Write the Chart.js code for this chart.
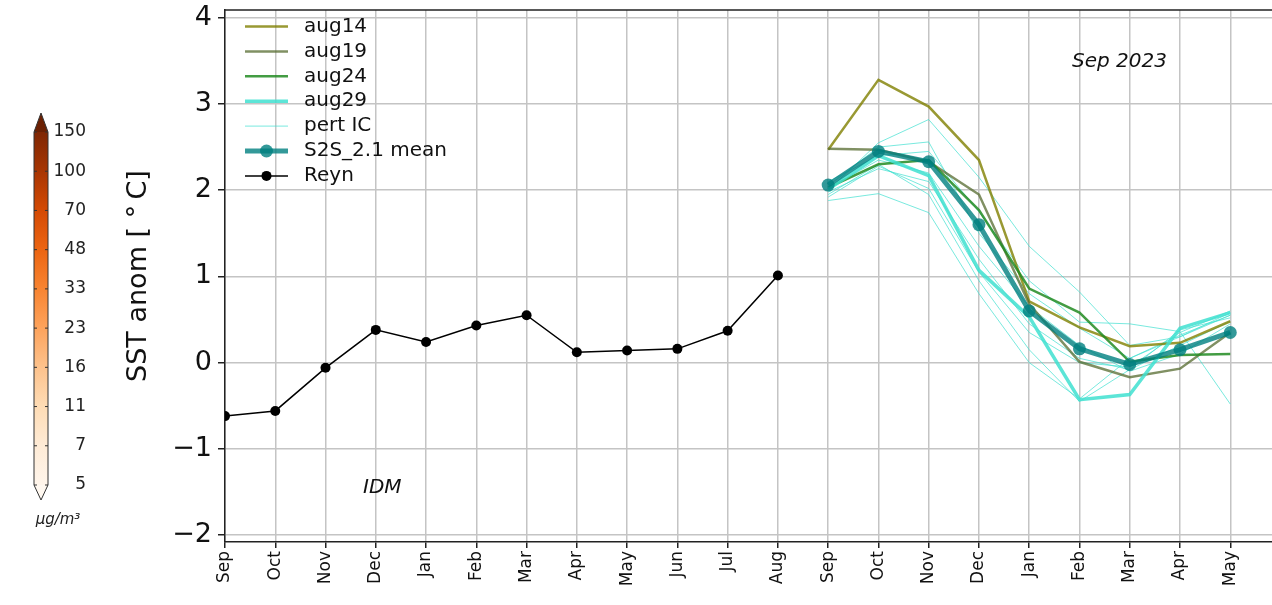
<!DOCTYPE html>
<html>
<head>
<meta charset="utf-8">
<script src="https://cdn.jsdelivr.net/npm/chart.js@4"></script>
<style>
  html, body { margin: 0; padding: 0; background: #fff; overflow: hidden; }
  #wrap { width: 1280px; height: 605px; }
</style>
</head>
<body>
<div id="wrap"><canvas id="sst"></canvas></div>
<script>
// month ticks along the x axis (index 0 = Sep 2022)
const months = ['Sep','Oct','Nov','Dec','Jan','Feb','Mar','Apr','May','Jun','Jul','Aug',
                'Sep','Oct','Nov','Dec','Jan','Feb','Mar','Apr','May'];
const yTicks = [-2, -1, 0, 1, 2, 3, 4];

// observed (Reynolds) anomalies, Sep .. Aug
const reynVals = [-0.62, -0.56, -0.06, 0.38, 0.24, 0.43, 0.55, 0.12, 0.14, 0.16, 0.37, 1.01];

// forecasts start at index 12 (Sep 2023)
const fcStart = 12;
const aug14 = [2.47, 3.28, 2.97, 2.35, 0.71, 0.41, 0.19, 0.23, 0.48];
const aug19 = [2.48, 2.47, 2.33, 1.95, 0.68, 0.01, -0.17, -0.07, 0.35];
const aug24 = [2.03, 2.30, 2.35, 1.77, 0.86, 0.58, 0.01, 0.09, 0.10];
const aug29 = [2.01, 2.40, 2.17, 1.07, 0.53, -0.43, -0.37, 0.40, 0.58];
const s2sMean = [2.06, 2.45, 2.33, 1.60, 0.60, 0.16, -0.02, 0.15, 0.35];
const pertIC = [
  [1.88, 1.96, 1.74, 0.80, 0.00, -0.42, 0.05, 0.32, 0.55],
  [1.95, 2.30, 1.95, 0.95, 0.15, -0.45, -0.08, 0.38, 0.52],
  [2.00, 2.55, 2.82, 2.15, 1.35, 0.82, 0.20, 0.30, 0.55],
  [2.05, 2.50, 2.56, 1.50, 0.80, 0.40, 0.05, 0.30, 0.58],
  [2.10, 2.40, 2.45, 1.75, 0.95, 0.47, 0.45, 0.36, -0.48],
  [1.98, 2.25, 2.10, 1.20, 0.45, 0.05, -0.08, 0.20, 0.48],
  [2.02, 2.35, 2.20, 1.35, 0.65, 0.20, -0.10, 0.10, 0.45],
  [1.92, 2.28, 2.02, 1.05, 0.35, 0.00, -0.05, 0.35, 0.60]
];

// colorbar labels (bottom to top)
const cbarTicks = ['5', '7', '11', '16', '23', '33', '48', '70', '100', '150'];

const FONT = "'DejaVu Sans', sans-serif";

function toPoints(vals, start) {
  return vals.map((v, i) => ({ x: start + i, y: v }));
}

const colors = {
  aug14: 'rgba(128,128,0,0.8)',
  aug19: 'rgba(85,107,47,0.75)',
  aug24: 'rgba(34,139,34,0.85)',
  aug29: 'rgba(64,224,208,0.85)',
  pert: 'rgba(64,224,208,0.7)',
  mean: 'rgba(0,128,128,0.8)',
  reyn: '#000'
};

function lineSet(label, vals, start, color, width, radius) {
  return {
    label: label,
    data: toPoints(vals, start),
    borderColor: color,
    backgroundColor: color,
    borderWidth: width,
    pointRadius: radius || 0,
    pointBorderWidth: 0,
    pointBackgroundColor: color,
    tension: 0,
    fill: false
  };
}

// first dataset ends up on top
const datasets = [
  lineSet('Reyn', reynVals, 0, colors.reyn, 1.5, 5),
  lineSet('S2S_2.1 mean', s2sMean, fcStart, colors.mean, 5, 6.5),
  lineSet('aug29', aug29, fcStart, colors.aug29, 3.5),
  lineSet('aug24', aug24, fcStart, colors.aug24, 2.5),
  lineSet('aug19', aug19, fcStart, colors.aug19, 2.5),
  lineSet('aug14', aug14, fcStart, colors.aug14, 2.5)
];
pertIC.forEach((p, k) => datasets.push(lineSet('pert IC ' + k, p, fcStart, colors.pert, 1)));

// legend entries drawn by hand inside the axes
const legendItems = [
  { text: 'aug14', color: colors.aug14, width: 2.5 },
  { text: 'aug19', color: colors.aug19, width: 2.5 },
  { text: 'aug24', color: colors.aug24, width: 2.5 },
  { text: 'aug29', color: colors.aug29, width: 3.5 },
  { text: 'pert IC', color: colors.pert, width: 1 },
  { text: 'S2S_2.1 mean', color: colors.mean, width: 5, marker: 6.5 },
  { text: 'Reyn', color: colors.reyn, width: 1.5, marker: 5 }
];

const extras = {
  id: 'extras',
  afterDraw(chart) {
    const ctx = chart.ctx;
    const area = chart.chartArea;
    ctx.save();

    // top spine
    ctx.strokeStyle = '#222';
    ctx.lineWidth = 1.5;
    ctx.beginPath();
    ctx.moveTo(area.left, area.top);
    ctx.lineTo(area.right, area.top);
    ctx.stroke();

    // legend
    legendItems.forEach((it, i) => {
      const y = 26.5 + i * 24.9;
      ctx.strokeStyle = it.color;
      ctx.lineWidth = it.width;
      ctx.beginPath();
      ctx.moveTo(245, y);
      ctx.lineTo(288, y);
      ctx.stroke();
      if (it.marker) {
        ctx.fillStyle = it.color;
        ctx.beginPath();
        ctx.arc(266.5, y, it.marker, 0, Math.PI * 2);
        ctx.fill();
      }
      ctx.fillStyle = '#111';
      ctx.font = '20px ' + FONT;
      ctx.textBaseline = 'middle';
      ctx.textAlign = 'left';
      ctx.fillText(it.text, 304, y);
    });

    // annotations
    ctx.font = 'italic 20px ' + FONT;
    ctx.fillStyle = '#111';
    ctx.textAlign = 'left';
    ctx.textBaseline = 'middle';
    ctx.fillText('Sep 2023', 1072, 62);
    ctx.fillText('IDM', 363, 488);

    // colorbar
    const cx = 34, cw = 14, top = 132, bot = 485;
    const grad = ctx.createLinearGradient(0, bot, 0, top);
    const stops = ['#fff5eb', '#feebd6', '#fedcb5', '#fdc28c', '#fda35c', '#f88431', '#ec6512', '#d44a04', '#a83603', '#7f2704'];
    stops.forEach((c, i) => grad.addColorStop(i / (stops.length - 1), c));
    ctx.fillStyle = grad;
    ctx.fillRect(cx, top, cw, bot - top);
    ctx.fillStyle = '#6b2003';
    ctx.beginPath();
    ctx.moveTo(cx, top); ctx.lineTo(cx + cw / 2, 113); ctx.lineTo(cx + cw, top); ctx.closePath();
    ctx.fill();
    ctx.fillStyle = '#fff8f0';
    ctx.beginPath();
    ctx.moveTo(cx, bot); ctx.lineTo(cx + cw / 2, 500); ctx.lineTo(cx + cw, bot); ctx.closePath();
    ctx.fill();
    ctx.strokeStyle = '#333';
    ctx.lineWidth = 1;
    ctx.beginPath();
    ctx.moveTo(cx, top); ctx.lineTo(cx + cw / 2, 113); ctx.lineTo(cx + cw, top);
    ctx.lineTo(cx + cw, bot); ctx.lineTo(cx + cw / 2, 500); ctx.lineTo(cx, bot); ctx.closePath();
    ctx.stroke();

    ctx.font = '17px ' + FONT;
    ctx.fillStyle = '#222';
    ctx.textAlign = 'right';
    const step = (bot - top) / (cbarTicks.length - 1);
    cbarTicks.forEach((t, i) => {
      const y = bot - i * step;
      ctx.strokeStyle = '#333';
      ctx.beginPath();
      ctx.moveTo(cx, y); ctx.lineTo(cx + 3, y);
      ctx.moveTo(cx + cw - 3, y); ctx.lineTo(cx + cw, y);
      ctx.stroke();
      ctx.fillText(t, 86, y);
    });
    ctx.textAlign = 'center';
    ctx.font = 'italic 15px ' + FONT;
    ctx.fillText('\u03bcg/m\u00b3', 58, 520);

    ctx.restore();
  }
};

new Chart(document.getElementById('sst'), {
  type: 'line',
  data: { datasets: datasets },
  options: {
    responsive: true,
    maintainAspectRatio: false,
    animation: false,
    events: [],
    layout: { padding: { left: 123, top: 10, right: 0, bottom: 0 } },
    plugins: { legend: { display: false }, tooltip: { enabled: false } },
    scales: {
      x: {
        type: 'linear',
        min: 0,
        max: 20.86,
        afterBuildTicks: (s) => { s.ticks = months.map((m, i) => ({ value: i })); },
        afterFit: (s) => { s.height = 63; s.paddingLeft = 0; s.paddingRight = 0; },
        grid: { color: '#c4c4c4', lineWidth: 1.5, tickColor: '#222', tickLength: 6, tickWidth: 1.5 },
        border: { color: '#222', width: 1.5 },
        ticks: {
          autoSkip: false,
          minRotation: 90,
          maxRotation: 90,
          padding: 3,
          color: '#111',
          font: { family: FONT, size: 17 },
          callback: (v) => months[v]
        }
      },
      y: {
        min: -2.08,
        max: 4.09,
        afterBuildTicks: (s) => { s.ticks = yTicks.map(v => ({ value: v })); },
        afterFit: (s) => { s.width = 102; s.paddingTop = 0; s.paddingBottom = 0; },
        grid: { color: '#c4c4c4', lineWidth: 1.5, tickColor: '#222', tickLength: 7, tickWidth: 1.5 },
        border: { color: '#222', width: 1.5 },
        ticks: {
          padding: 6,
          color: '#111',
          font: { family: FONT, size: 27 },
          callback: (v) => v < 0 ? '\u2212' + Math.abs(v) : String(v)
        },
        title: {
          display: true,
          text: 'SST anom [ \u00b0\u2009C]',
          color: '#111',
          padding: 0,
          font: { family: FONT, size: 27 }
        }
      }
    }
  },
  plugins: [extras]
});
</script>
</body>
</html>
